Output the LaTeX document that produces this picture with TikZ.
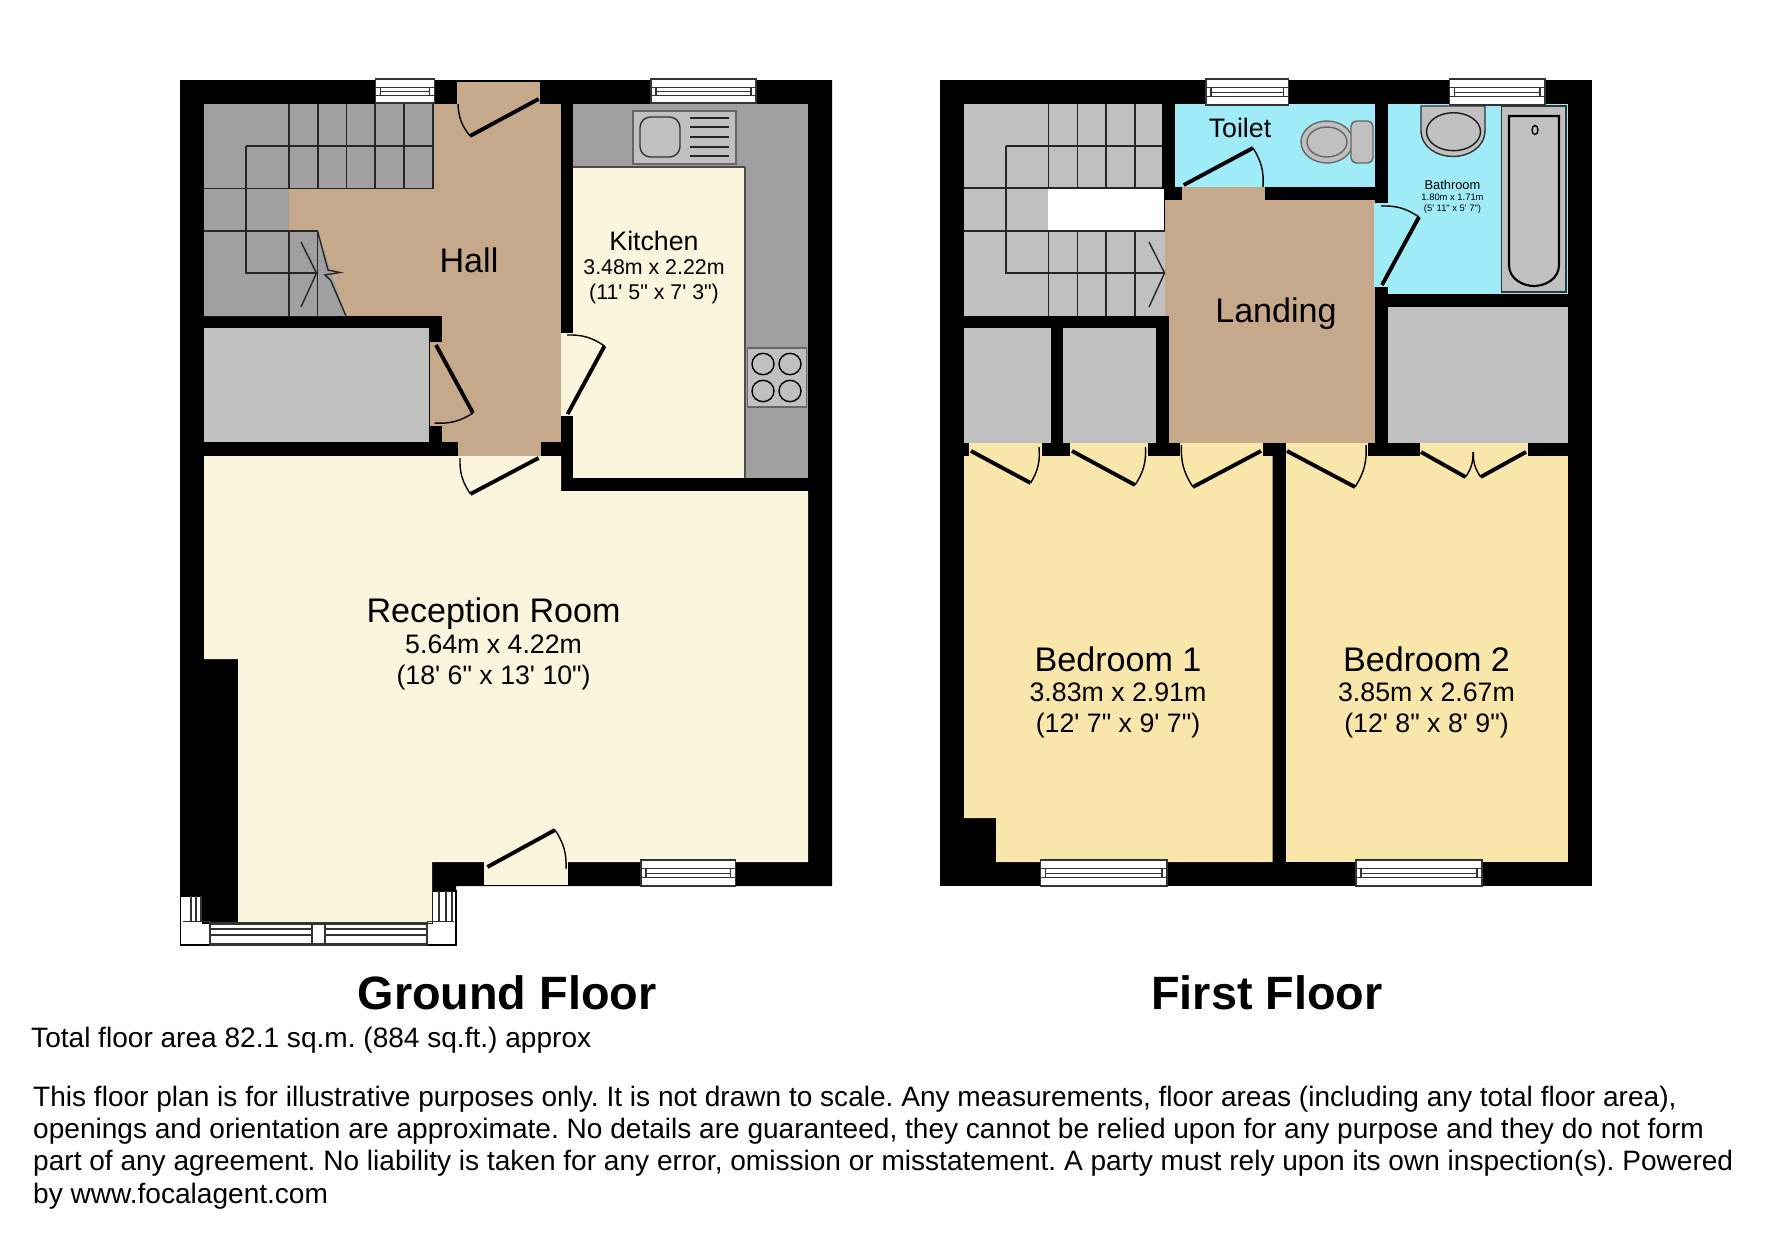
\documentclass[tikz,border=0pt]{standalone}
\usepackage{fontspec}
\newfontfamily\planfont{Liberation Sans}
\usetikzlibrary{positioning}

\definecolor{creamfloor}{HTML}{FAF5DC}
\definecolor{tanfloor}{HTML}{C6A98A}
\definecolor{yellowfloor}{HTML}{F8E6AB}
\definecolor{aquafloor}{HTML}{A0EBF8}
\definecolor{darkfit}{HTML}{A0A0A0}
\definecolor{lightfit}{HTML}{C0C0C0}

% font size, line height
\newcommand{\planfs}[2]{\planfont\frenchspacing\fontsize{#1}{#2}\selectfont}
% x1 y1 x2 y2
\newcommand{\windowh}[4]{
  \pgfmathsetmacro{\winA}{#2+0.34*(#4-#2)}
  \pgfmathsetmacro{\winB}{#2+0.68*(#4-#2)}
  \pgfmathsetmacro{\winC}{#2+0.51*(#4-#2)}
  \pgfmathsetmacro{\winD}{#1+5}
  \pgfmathsetmacro{\winE}{#3-5}
  \draw[glass] (#1,#2) rectangle (#3,#4);
  \draw[glass] (#1,\winA) rectangle (#3,\winB);
  \draw[glass] (\winD,\winA) rectangle (\winE,\winB);
  \draw[glass] (\winD,\winC) -- (\winE,\winC);
}
% hinge, tip, arc end, bend
\newcommand{\door}[4]{
  \draw[leaf] (#1) -- (#2);
  \draw[swing] (#2) to[#4] (#3);
}

\begin{document}
\begin{tikzpicture}[x=0.01cm,y=-0.01cm,node distance=0.49cm,
  wall/.style={fill=black},
  glass/.style={fill=white,draw=black!80,line width=0.35pt},
  leaf/.style={draw=black,line width=1.1pt},
  swing/.style={draw=black,line width=0.4pt},
  tread/.style={draw=black!85,line width=0.4pt},
  fitting/.style={fill=lightfit,draw=black!60,line width=0.4pt},
  outline/.style={draw=black,line width=0.5pt},
  roomname/.style={inner sep=0pt,font=\planfs{9.7}{11}},
  roomsize/.style={inner sep=0pt,align=center,font=\planfs{7.6}{8.8}},
  smallname/.style={inner sep=0pt,font=\planfs{7.6}{9}},
  smallsize/.style={inner sep=0pt,align=center,font=\planfs{6.07}{7.15}},
  title/.style={inner sep=0pt,font=\planfs{13.3}{15}\bfseries},
  notice/.style={inner sep=0pt,anchor=west,align=left,font=\planfs{7.98}{9.22}}]

  \useasboundingbox[fill=white] (0,0) rectangle (1771,1239);

  % ground floor
  \fill[wall] (180,80) -- (832,80) -- (832,886) -- (456,886) -- (456,891) -- (432,891)
    -- (432,923) -- (202.5,923) -- (202.5,896) -- (180,896) -- cycle;
  \draw[fill=white,draw=black,line width=0.5pt] (180.5,896) -- (202.5,896) -- (202.5,923) -- (432,923)
    -- (432,891) -- (456,891) -- (456,945) -- (180.5,945) -- cycle;
  \fill[wall] (180,944.5) rectangle (456,946);
  \fill[creamfloor] (204,456) -- (561,456) -- (561,491) -- (808,491) -- (808,862) -- (432,862)
    -- (432,923) -- (238,923) -- (238,659) -- (204,659) -- cycle;
  \fill[creamfloor] (484,860) rectangle (568,885);
  \fill[darkfit] (573,104) rectangle (808,478);
  \fill[creamfloor] (573,167) rectangle (745,478);
  \fill[creamfloor] (560,333) rectangle (574,416);
  \draw[outline,draw=black!70] (745,167) -- (745,478) (573,167) -- (745,167);
  \fill[tanfloor] (433,104) rectangle (561,442);
  \fill[tanfloor] (289,189) rectangle (434,316);
  \fill[tanfloor] (442,316) rectangle (561,442);
  \fill[tanfloor] (457,82) rectangle (540,105);
  \fill[tanfloor] (430,342) rectangle (443,426);
  \fill[tanfloor] (458,441) rectangle (541,455.5);
  \fill[wall] (204,316) rectangle (442,328);
  \fill[wall] (429,316) rectangle (442,342);
  \fill[wall] (429,426) rectangle (442,443);
  \fill[lightfit] (204,328) rectangle (429,442);

  % stairs
  \fill[darkfit] (204,104) -- (433,104) -- (433,189) -- (289,189) -- (289,231) -- (317.5,231)
    -- (346,316) -- (204,316) -- cycle;
  \foreach \x in {289,318,346.5,375,404}
    \draw[tread] (\x,104) -- (\x,189);
  \draw[tread] (246,146) -- (433,146) (204,188.5) -- (433,188.5) (433,104) -- (433,189);
  \draw[tread] (246,146) -- (246,273) -- (317.5,273);
  \draw[tread] (204,231) -- (317.5,231) (289,231) -- (289,316) (317.5,231) -- (317.5,316);
  \draw[tread] (317.5,231) -- (328,270) -- (340,272.5) -- (325,275) -- (330.5,280) -- (346,316);
  \draw[tread] (301,242) -- (316.5,273) -- (301,307);

  % kitchen fittings
  \draw[fitting] (633,111) rectangle (736,164);
  \draw[fitting,draw=black!80,rounded corners=3pt] (640,117) rectangle (680,157);
  \foreach \y in {118,127,137,147,156}
    \draw[tread] (690,\y) -- (728.5,\y);
  \draw[fitting] (747.5,348) rectangle (806.5,407);
  \foreach \x in {763,790}
    \foreach \y in {364,391}
      \draw[fitting,draw=black] (\x,\y) ellipse [x radius=11, y radius=10.7];

  \door{538.6,99}{470,136}{458,104}{bend left=18}
  \door{436,345}{473,413}{434.5,423}{bend left=18}
  \door{567.6,414}{604.5,346}{567,335}{bend right=18}
  \door{538.6,458}{470.5,494}{460,458}{bend left=18}
  \door{487.4,867}{555,830}{566,869}{bend left=18}

  \windowh{375.5}{79}{434.5}{103}
  \windowh{651}{79}{756}{103}
  \windowh{641}{860}{735.5}{886}

  % bay window
  \draw[glass,line width=0.6pt] (210,923.5) rectangle (427,944.5);
  \draw[glass] (210,929) -- (312,929) (210,935) -- (312,935) (325,929) -- (427,929) (325,935) -- (427,935);
  \draw[glass] (312,923.5) -- (312,944.5) (325,923.5) -- (325,944.5);
  \foreach \x in {191,196,201}
    \draw[glass] (\x,896) -- (\x,921);
  \draw[glass] (183,921.5) -- (210,921.5);
  \foreach \x in {439,446,452}
    \draw[glass] (\x,891) -- (\x,921);
  \draw[glass] (427,921.5) -- (454,921.5);

  % first floor
  \fill[wall] (940,80) rectangle (1592,886);
  \fill[yellowfloor] (964,456) -- (1272.6,456) -- (1272.6,862) -- (996,862) -- (996,818) -- (964,818) -- cycle;
  \fill[yellowfloor] (1285.6,456) rectangle (1568,862);
  \foreach \a/\b in {969/1041.5,1069.6/1147.7,1180/1263,1285.6/1368,1420/1527.6}
    \fill[yellowfloor] (\a,443) rectangle (\b,457);
  \fill[tanfloor] (1168.5,200) rectangle (1374.5,443);
  \fill[tanfloor] (1165,200) rectangle (1169,316);
  \fill[tanfloor] (1181.5,187) rectangle (1265,200);
  \fill[aquafloor] (1175,104) rectangle (1374.5,187);
  \fill[aquafloor] (1387.5,104) rectangle (1568,294);
  \fill[aquafloor] (1374,203) rectangle (1388,287);
  \fill[lightfit] (964,328) rectangle (1050.5,443);
  \fill[lightfit] (1063,328) rectangle (1156,443);
  \fill[lightfit] (1387.5,307) rectangle (1568,443);

  % stairs
  \fill[lightfit] (964,104) rectangle (1162,189);
  \fill[lightfit] (964,189) rectangle (1048.4,231);
  \fill[lightfit] (964,231) rectangle (1165,316);
  \fill[white] (1048.4,189) rectangle (1164,231);
  \foreach \x in {1048.4,1077.4,1106,1135} {
    \draw[tread] (\x,104) -- (\x,188);
    \draw[tread] (\x,231) -- (\x,316);
  }
  \draw[tread] (1006,146) -- (1162,146) (964,188) -- (1162,188) (964,231) -- (1165,231);
  \draw[tread] (1006,146) -- (1006,273) -- (1165,273);
  \draw[tread] (1149,242) -- (1164.6,273) -- (1149,307);

  % toilet and bathroom fittings
  \draw[fitting] (1327,142) ellipse [x radius=26, y radius=21];
  \draw[fitting] (1327,142) ellipse [x radius=20, y radius=15];
  \draw[fitting,rounded corners=1.5pt] (1351,121) rectangle (1373,163);
  \draw[fitting,draw=black!80] (1421,106) -- (1421,130) .. controls (1421,148) and (1438,156.5) .. (1453,156.5)
    .. controls (1468,156.5) and (1485,148) .. (1485,130) -- (1485,106) -- cycle;
  \draw[fitting,draw=black!90] (1453.5,131.7) ellipse [x radius=27, y radius=19];
  \draw[fitting,draw=black!80] (1501.6,106) rectangle (1566,292);
  \draw[fitting,draw=black,line width=0.6pt] (1509,116) -- (1559,116) -- (1559,265)
    .. controls (1559,279) and (1545,286) .. (1534,286) .. controls (1523,286) and (1509,279) .. (1509,265) -- cycle;
  \draw[fitting,draw=black] (1535,130) ellipse [x radius=3, y radius=4.5];

  \door{971,451}{1030.6,483}{1039,447}{bend right=18}
  \door{1072,451}{1135,485}{1145.5,447}{bend right=18}
  \door{1261,451}{1193,487}{1181.5,445}{bend left=18}
  \door{1287,451}{1355,487}{1366,445}{bend right=18}
  \door{1421,452}{1465.5,477}{1473,452}{bend right=18}
  \door{1526,452}{1480.7,477}{1473.3,452}{bend left=18}
  \door{1183.7,185}{1253,148}{1263,187}{bend left=18}
  \door{1382,285}{1419,217}{1381,206}{bend right=18}

  \windowh{1206}{79}{1288.6}{105}
  \windowh{1449.5}{79}{1545}{105}
  \windowh{1040.6}{860}{1167}{886}
  \windowh{1356}{860}{1482}{886}

  % room labels
  \node[roomname] (hall) at (469,260) {Hall};
  \node[smallname] (kitchen) at (654,240.6) {Kitchen};
  \node[smallsize,below of=kitchen,node distance=0.41cm] (kitchensize) {3.48m x 2.22m\\(11' 5" x 7' 3")};
  \node[roomname] (reception) at (493.6,613.4) {Reception Room};
  \node[roomsize,below of=reception] (receptionsize) {5.64m x 4.22m\\(18' 6" x 13' 10")};
  \node[roomname] (bedroomone) at (1118,659) {Bedroom 1};
  \node[roomsize,below of=bedroomone,node distance=0.515cm] (bedroomonesize) {3.83m x 2.91m\\(12' 7" x 9' 7")};
  \node[roomname] (bedroomtwo) at (1426.5,659) {Bedroom 2};
  \node[roomsize,below of=bedroomtwo,node distance=0.515cm] (bedroomtwosize) {3.85m x 2.67m\\(12' 8" x 8' 9")};
  \node[roomname] (landing) at (1276,314) {Landing};
  \node[smallname] (toilet) at (1240,127.6) {Toilet};
  \node[inner sep=0pt,font=\planfs{3.65}{4.4}] (bathroom) at (1452.5,185) {Bathroom};
  \node[inner sep=0pt,align=center,font=\planfs{2.67}{3.3},below of=bathroom,node distance=0.185cm]
    (bathroomsize) {1.80m x 1.71m\\(5' 11" x 5' 7")};

  \node[title] (groundfloor) at (507,993) {Ground Floor};
  \node[title] (firstfloor) at (1267,993) {First Floor};
  \node[notice] (area) at (30.5,1040) {Total floor area 82.1 sq.m. (884 sq.ft.) approx};
  \node[notice] (disclaimer) at (32.5,1147.5) {This floor plan is for illustrative purposes only. It is not drawn to scale. Any measurements, floor areas (including any total floor area),\\
    openings and orientation are approximate. No details are guaranteed, they cannot be relied upon for any purpose and they do not form\\
    part of any agreement. No liability is taken for any error, omission or misstatement. A party must rely upon its own inspection(s). Powered\\
    by www.focalagent.com};
\end{tikzpicture}
\end{document}
